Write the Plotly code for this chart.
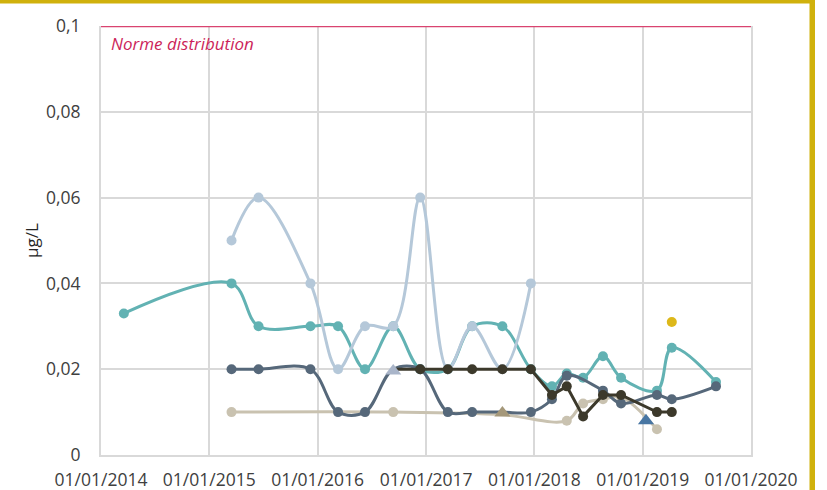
import plotly.graph_objects as go

# ---------------- data ----------------
teal_dates = ["2014-03-19", "2015-03-17", "2015-06-16", "2015-12-08", "2016-03-10", "2016-06-09",
              "2016-09-12", "2016-12-12", "2017-03-15", "2017-06-05", "2017-09-15", "2017-12-20",
              "2018-03-01", "2018-04-20", "2018-06-14", "2018-08-20", "2018-10-20", "2019-02-18",
              "2019-04-09", "2019-09-05"]
teal_vals = [0.033, 0.04, 0.03, 0.03, 0.03, 0.02, 0.03, 0.02, 0.02, 0.03, 0.03, 0.02,
             0.016, 0.019, 0.018, 0.023, 0.018, 0.015, 0.025, 0.017]

lightblue_dates = ["2015-03-17", "2015-06-16", "2015-12-08", "2016-03-10", "2016-06-09", "2016-09-12",
                   "2016-12-12", "2017-03-15", "2017-06-05", "2017-09-15", "2017-12-20"]
lightblue_vals = [0.05, 0.06, 0.04, 0.02, 0.03, 0.03, 0.06, 0.02, 0.03, 0.02, 0.04]

slate_dates = ["2015-03-17", "2015-06-16", "2015-12-08", "2016-03-10", "2016-06-09", "2016-09-12",
               "2016-12-12", "2017-03-15", "2017-06-05", "2017-09-15", "2017-12-20", "2018-03-01",
               "2018-04-20", "2018-08-20", "2018-10-20", "2019-02-18", "2019-04-09", "2019-09-05"]
slate_vals = [0.02, 0.02, 0.02, 0.01, 0.01, 0.02, 0.02, 0.01, 0.01, 0.01, 0.01, 0.013,
              0.0185, 0.015, 0.012, 0.014, 0.013, 0.016]

beige_dates = ["2015-03-17", "2016-09-12", "2017-09-15", "2018-04-20", "2018-06-14", "2018-08-20",
               "2018-10-20", "2019-02-18"]
beige_vals = [0.01, 0.01, 0.0094, 0.008, 0.012, 0.013, 0.0135, 0.006]

brown_dates = ["2016-09-12", "2016-12-12", "2017-03-15", "2017-06-05", "2017-09-15", "2017-12-20",
               "2018-03-01", "2018-04-20", "2018-06-14", "2018-08-20", "2018-10-20", "2019-02-18",
               "2019-04-09"]
brown_vals = [0.02, 0.02, 0.02, 0.02, 0.02, 0.02, 0.014, 0.016, 0.009, 0.014, 0.014, 0.01, 0.01]

tri_light_date, tri_light_val = ["2016-09-12"], [0.0196]
tri_khaki_date, tri_khaki_val = ["2017-09-15"], [0.0098]
tri_blue_date, tri_blue_val = ["2019-01-12"], [0.008]
yellow_date, yellow_val = ["2019-04-09"], [0.031]

norme_dates = ["2014-01-01", "2020-01-01"]
norme_vals = [0.1, 0.1]
norme_label = "Norme distribution"

x_ticks = ["2014-01-01", "2015-01-01", "2016-01-01", "2017-01-01", "2018-01-01", "2019-01-01", "2020-01-01"]
x_ticktext = ["01/01/2014", "01/01/2015", "01/01/2016", "01/01/2017", "01/01/2018", "01/01/2019", "01/01/2020"]
y_ticks = [0, 0.02, 0.04, 0.06, 0.08, 0.1]
y_ticktext = ["0", "0,02", "0,04", "0,06", "0,08", "0,1"]
y_title = "µg/L"

# ---------------- figure ----------------
fig = go.Figure()

def smooth(x, y, color, width=3, size=10, shape="spline", hidden=()):
    sizes = [0 if d in hidden else size for d in x]
    fig.add_trace(go.Scatter(x=x, y=y, mode="lines+markers",
                             line=dict(color=color, width=width, shape=shape, smoothing=1),
                             marker=dict(color=color, size=sizes, opacity=1, line=dict(width=0)),
                             showlegend=False, hoverinfo="x+y"))

def single(x, y, color, symbol, size):
    fig.add_trace(go.Scatter(x=x, y=y, mode="markers",
                             marker=dict(color=color, size=size, symbol=symbol, opacity=1,
                                         line=dict(width=0)),
                             showlegend=False))

fig.add_trace(go.Scatter(x=norme_dates, y=norme_vals, mode="lines",
                         line=dict(color="#d94470", width=2.5), showlegend=False))

smooth(teal_dates, teal_vals, "#62b2b3")
smooth(lightblue_dates, lightblue_vals, "#b5c8d9")
smooth(beige_dates, beige_vals, "#c9c2b0", hidden=("2017-09-15",))
smooth(slate_dates, slate_vals, "#56687a", hidden=("2016-09-12", "2017-09-15"))
smooth(brown_dates, brown_vals, "#3c392b", shape="linear", hidden=("2016-09-12",))

single(tri_light_date, tri_light_val, "#a9b5c9", "triangle-up", 14)
single(tri_khaki_date, tri_khaki_val, "#a5987a", "triangle-up", 14)
single(tri_blue_date, tri_blue_val, "#4876a3", "triangle-up", 14)
single(yellow_date, yellow_val, "#ddb81a", "circle", 10)

L, R, T, B = 101, 76, 26, 35
W, H = 827, 490
pw, ph = W - L - R, H - T - B

def px_x(px):
    return (px - L) / pw

def px_y(py):
    return (H - B - py) / ph

fig.update_layout(
    width=W, height=H,
    margin=dict(l=L, r=R, t=T, b=B, pad=0, autoexpand=False),
    paper_bgcolor="white", plot_bgcolor="white",
    font=dict(family="Open Sans", size=17, color="#595959"),
    xaxis=dict(type="date", range=["2014-01-01", "2020-01-01"],
               tickvals=x_ticks, ticktext=x_ticktext,
               showgrid=True, gridcolor="#d9d9d9", gridwidth=2,
               showline=True, linecolor="#d9d9d9", linewidth=2,
               ticks="", ticklabelstandoff=8, tickfont=dict(size=17.5, color="#404040"),
               zeroline=False, fixedrange=True, automargin=False),
    yaxis=dict(range=[0, 0.1], tickvals=y_ticks, ticktext=y_ticktext,
               showgrid=True, gridcolor="#d9d9d9", gridwidth=2,
               showline=True, linecolor="#d9d9d9", linewidth=2, mirror=True,
               ticks="", ticklabelstandoff=15, tickfont=dict(size=17.5, color="#404040"),
               zeroline=False, fixedrange=True, automargin=False),
    annotations=[
        dict(text=norme_label, x=px_x(109), y=px_y(43), xref="paper", yref="paper",
             xanchor="left", yanchor="middle", showarrow=False,
             font=dict(family="Open Sans", size=17, color="#cc1f5a", style="italic")),
        dict(text=y_title, x=px_x(31), y=px_y(241), xref="paper", yref="paper",
             xanchor="center", yanchor="middle", textangle=-90, showarrow=False,
             font=dict(family="Open Sans", size=17, color="#262626")),
    ],
    shapes=[
        dict(type="rect", xref="paper", yref="paper",
             x0=px_x(0), x1=px_x(815), y0=px_y(3.5), y1=px_y(-2),
             fillcolor="#d0b10c", line=dict(width=0), layer="above"),
        dict(type="rect", xref="paper", yref="paper",
             x0=px_x(809.5), x1=px_x(815), y0=px_y(492), y1=px_y(-2),
             fillcolor="#d0b10c", line=dict(width=0), layer="above"),
    ],
)

fig.write_html("out.html", config={"displayModeBar": False},
               post_script="document.body.style.margin='0';document.body.style.overflow='hidden';")
